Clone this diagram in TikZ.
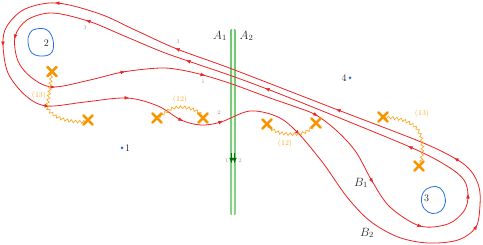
\documentclass[tikz,border=0pt]{standalone}
\usetikzlibrary{arrows.meta,decorations.pathmorphing,shapes.misc}
\definecolor{lred}{RGB}{235,35,35}
\definecolor{lblue}{RGB}{40,110,230}
\definecolor{xorange}{RGB}{245,150,0}
\definecolor{worange}{RGB}{250,170,40}
\definecolor{ggreen}{RGB}{0,150,0}
\definecolor{glabel}{RGB}{150,150,150}
\newcommand{\rarr}[3]{\draw[redarr] (#1,#2) ++({#3+180}:2.6pt) -- ++(#3:5pt);}
\begin{document}
\begin{tikzpicture}[x=1pt,y=-1pt,
  redline/.style={draw=lred, line width=0.8pt},
  redarr/.style={draw=lred, line width=0.8pt, -{Latex[length=4.8pt,width=3.8pt]}},
  blueloop/.style={draw=lblue, line width=0.8pt},
  wavy/.style={draw=worange, line width=0.7pt, decorate, decoration={snake, amplitude=1.4pt, segment length=4.2pt}},
  xmark/.style={cross out, draw=xorange, line width=2.2pt, minimum size=7pt, inner sep=0pt, line cap=round},
  lbl/.style={inner sep=0pt, text=black!85},
  glbl/.style={inner sep=0pt, text=glabel, font=\fontsize{5.5}{6}\selectfont},
  olbl/.style={inner sep=0pt, text=worange, font=\fontsize{7.5}{9}\selectfont},
  garr/.style={draw=ggreen!75!black, line width=0.8pt, -{Latex[length=5.5pt,width=4.2pt]}}
]
\useasboundingbox (0,0) rectangle (483,245);

% green lines
\shade[top color=ggreen!55, middle color=ggreen!85!black, bottom color=ggreen!45] (230.7,30) rectangle (232.1,215);
\shade[top color=ggreen!55, middle color=ggreen!85!black, bottom color=ggreen!45] (233.9,30) rectangle (235.3,215);
\draw[garr] (231.4,153) -- (231.4,163.5);
\draw[garr] (234.6,153) -- (234.6,163.5);

% loop B2 (outer)
\draw[redline] plot[smooth cycle, tension=0.55] coordinates {
 (456,159) (421,142) (338,110) (232,69) (177,49) (135,30) (100,14) (57,3) (25,9) (7,26) (3,44) (8,73) (26,96) (47,106) (85,102) (127,98) (158,106) (181,120) (201,125) (221,122) (250,111) (278,117) (298,133) (323,163) (347,197) (370,221) (398,237) (428,243) (458,240) (476,227) (480,205) (479,187) (471,171)};
% loop B1 (inner)
\draw[redline] plot[smooth cycle, tension=0.55] coordinates {
 (410,147) (310,106) (267,89) (232,76) (188,61) (160,51) (122,35) (88,21) (52,13) (27,20) (15,37) (18,61) (32,78) (53,87) (90,80) (123,72) (160,68) (181,70) (203,75) (232,84) (270,98) (296,107) (316,115) (337,131) (356,152) (372,181) (390,207) (420,226) (448,224) (464,211) (468,196) (464,180) (447,166)};

% arrows on B2
\rarr{456}{159}{150}
\rarr{338}{110}{159}
\rarr{177}{49}{158}
\rarr{57}{3}{176}
\rarr{3}{44}{-89}
\rarr{47}{106}{-6}
\rarr{127}{98}{-3}
\rarr{181}{120}{-24}
\rarr{221}{122}{16}
\rarr{298}{133}{-46}
\rarr{476}{227}{58}
% arrows on B1
\rarr{410}{147}{156}
\rarr{267}{89}{159}
\rarr{188}{61}{161}
\rarr{88}{21}{163}
\rarr{15}{37}{-102}
\rarr{53}{87}{-2}
\rarr{123}{72}{10}
\rarr{203}{75}{-15}
\rarr{316}{115}{-30}
\rarr{372}{181}{-58}
\rarr{420}{226}{-16}
\rarr{468}{196}{90}

% blue loops and points
\draw[blueloop] plot[smooth cycle, tension=0.7] coordinates {(36,29) (47,30) (53,40) (52,52) (43,56) (32,53) (28,42) (30,33)};
\draw[blueloop] plot[smooth cycle, tension=0.7] coordinates {(431,187) (440,188) (445,197) (444,207) (437,213) (428,212) (422,204) (423,193)};
\fill[lblue] (122,148) circle (1.5pt);
\fill[lblue] (350,78) circle (1.5pt);
\node[lbl] (p2) at (46.5,43.5) {2};
\node[lbl] (p3) at (426.5,198.5) {3};
\node[lbl] (p1) at (127.5,148) {1};
\node[lbl] (p4) at (344,78) {4};

% crosses
\node[xmark] (c1) at (52,71.5) {};
\node[xmark] (c2) at (88,120) {};
\node[xmark] (c3) at (157,118) {};
\node[xmark] (c4) at (203,118) {};
\node[xmark] (c5) at (267,124) {};
\node[xmark] (c6) at (316,123) {};
\node[xmark] (c7) at (383,117) {};
\node[xmark] (c8) at (419,166) {};
\coordinate (j1) at (47,106);
\coordinate (j2) at (167,111.5);
\coordinate (j3) at (298,133);
\coordinate (j4) at (421,142);

% wavy lines
\draw[wavy] (c1.center) .. controls (50,85) and (49,97) .. (j1) .. controls (52,117) and (70,121) .. (c2.center);
\draw[wavy] (c3.center) .. controls (161,115) and (164,114) .. (j2) .. controls (171,106) and (194,105) .. (c4.center);
\draw[wavy] (c5.center) .. controls (272,132) and (285,134) .. (j3) .. controls (306,132) and (311,127) .. (c6.center);
\draw[wavy] (c7.center) .. controls (400,118) and (419,122) .. (j4) .. controls (422,150) and (421,158) .. (c8.center);

% crosses on top again
\node[xmark] at (c1) {};
\node[xmark] at (c2) {};
\node[xmark] at (c3) {};
\node[xmark] at (c4) {};
\node[xmark] at (c5) {};
\node[xmark] at (c6) {};
\node[xmark] at (c7) {};
\node[xmark] at (c8) {};

% orange labels
\node[olbl] (o1) at (180,99.5) {(12)};
\node[olbl] (o2) at (285,143.5) {(12)};
\node[olbl] (o3) at (39,96) {(13)};
\node[olbl] (o4) at (422,113.5) {(13)};

% gray labels
\node[glbl] (g1) at (85,28) {3};
\node[glbl] (g2) at (178,41.5) {3};
\node[glbl] (g3) at (203,82) {1};
\node[glbl] (g4) at (219,112.5) {2};
\node[glbl] (g5) at (226.7,160.7) {1};
\node[glbl] (g6) at (240,160.7) {2};

% main labels
\node[lbl, font=\large] (a1) at (220,36) {$A_1$};
\node[lbl, font=\large] (a2) at (246.5,36) {$A_2$};
\node[lbl, font=\large] (b1) at (361,183) {$B_1$};
\node[lbl, font=\large] (b2) at (367,233) {$B_2$};
\end{tikzpicture}
\end{document}
